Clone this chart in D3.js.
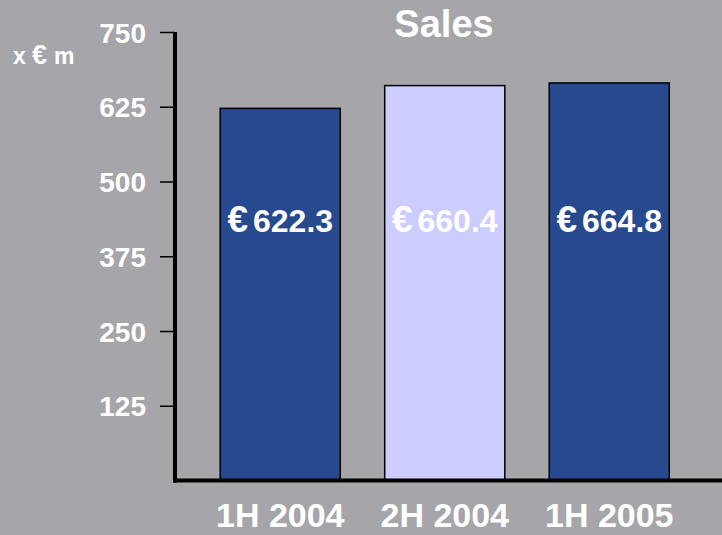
<!DOCTYPE html>
<html>
<head>
<meta charset="utf-8">
<script src="https://cdn.jsdelivr.net/npm/d3@7"></script>
<style>
html,body{margin:0;padding:0;background:#a6a6aa;}
svg{display:block;}
text{font-family:"Liberation Sans",Arial,sans-serif;font-weight:bold;fill:#ffffff;}
</style>
</head>
<body>
<svg id="chart" width="722" height="535"></svg>
<script>
const categories = ["1H 2004", "2H 2004", "1H 2005"];
const sales = [622.3, 660.4, 664.8];
const barColors = ["#27498d", "#ccccff", "#27498d"];
const yTicks = [125, 250, 375, 500, 625, 750];
const title = "Sales";
const unitLabel = ["x", "€", "m"];

const svg = d3.select("#chart");
const W = 722, H = 535;
svg.append("rect").attr("width", W).attr("height", H).attr("fill", "#a6a6aa");

const axisX = 175, axisY = 480.5;
const y = d3.scaleLinear().domain([0, 750]).range([480.5, 32]);
const x = d3.scaleBand().domain(categories).range([198, 691.5]).paddingInner(0.27).paddingOuter(0.135);

// Title
svg.append("text").attr("x", 444).attr("y", 37).attr("text-anchor", "middle")
  .attr("font-size", 38).text(title);

// Unit label
const ul = svg.append("text").attr("y", 64).attr("font-size", 23);
ul.append("tspan").attr("x", 13).text(unitLabel[0]);
ul.append("tspan").attr("x", 32).attr("font-size", 27).text(unitLabel[1]);
ul.append("tspan").attr("x", 54).text(unitLabel[2]);

// Bars
svg.selectAll("rect.bar").data(sales).enter().append("rect")
  .attr("class", "bar")
  .attr("x", (d, i) => x(categories[i]))
  .attr("width", x.bandwidth())
  .attr("y", d => y(d))
  .attr("height", d => y(0) - y(d))
  .attr("fill", (d, i) => barColors[i])
  .attr("stroke", "#000").attr("stroke-width", 1.5);

// Value labels
svg.selectAll("text.val").data(sales).enter().append("text")
  .attr("class", "val")
  .attr("x", (d, i) => x(categories[i]) + x.bandwidth() / 2)
  .attr("y", 232)
  .attr("text-anchor", "middle")
  .attr("font-size", 32)
  .each(function(d) {
    const t = d3.select(this);
    t.append("tspan").attr("font-size", 37).text("€");
    t.append("tspan").attr("dx", 5).text(d3.format(".1f")(d));
  });

// Y axis
const yAxis = d3.axisLeft(y).tickValues(yTicks).tickSize(15);
const gy = svg.append("g").attr("transform", `translate(${axisX},0)`).call(yAxis);
gy.select(".domain").remove();
gy.selectAll(".tick line").attr("stroke", "#000").attr("stroke-width", 1.5);
gy.selectAll(".tick text").attr("x", -29).attr("dy", "0.36em")
  .attr("font-size", 28).attr("fill", "#fff")
  .attr("font-family", "Liberation Sans, Arial, sans-serif").attr("font-weight", "bold");
svg.append("line").attr("x1", axisX).attr("x2", axisX).attr("y1", y(750)).attr("y2", axisY + 2)
  .attr("stroke", "#000").attr("stroke-width", 4);

// X axis
const xAxis = d3.axisBottom(x).tickSize(0).tickPadding(0);
const gx = svg.append("g").attr("transform", `translate(0,${axisY})`).call(xAxis);
gx.select(".domain").remove();
gx.selectAll(".tick text").attr("y", 46).attr("dy", 0)
  .attr("font-size", 34).attr("fill", "#fff")
  .attr("font-family", "Liberation Sans, Arial, sans-serif").attr("font-weight", "bold");
svg.append("line").attr("x1", axisX - 2).attr("x2", W).attr("y1", axisY).attr("y2", axisY)
  .attr("stroke", "#000").attr("stroke-width", 4);
</script>
</body>
</html>
